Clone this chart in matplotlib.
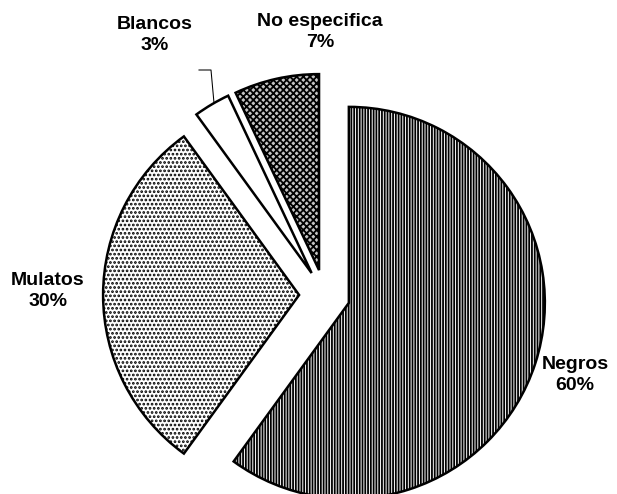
import matplotlib
matplotlib.use("Agg")
import matplotlib.pyplot as plt

# composición por color de piel (%)
labels = ["Negros", "Mulatos", "Blancos", "No especifica"]
values = [60, 30, 3, 7]
pct_text = ["60%", "30%", "3%", "7%"]

faces = ["white", "white", "white", "#c4c4c4"]
hatches = ["||||||", "....", "", "xxxxx"]

plt.rcParams["font.family"] = ["Liberation Sans", "DejaVu Sans"]
plt.rcParams["hatch.linewidth"] = 1.3

W, H = 617, 494
fig = plt.figure(figsize=(W / 100, H / 100), dpi=100)
ax = fig.add_axes([0, 0, 1, 1])

R = 196
wedges, _ = ax.pie(values, startangle=90, counterclock=False,
                   center=(324.6, 199), radius=R, explode=[25.5] * 4,
                   wedgeprops=dict(edgecolor="black", linewidth=1.8))
for w, fc, h in zip(wedges, faces, hatches):
    w.set_facecolor(fc)
    w.set_hatch(h)

# etiquetas (coordenadas en píxeles, origen abajo-izquierda)
pos = {"Negros": (575, 119), "Mulatos": (48, 203),
       "Blancos": (155, 459), "No especifica": (320, 462)}
for lab, p in zip(labels, pct_text):
    x, y = pos[lab]
    ax.text(x, y, f"{lab}\n{p}", ha="center", va="center",
            fontsize=14, fontweight="bold", linespacing=1.35)

# línea guía de Blancos
ax.plot([199, 211, 214], [H - 70, H - 70, H - 103], color="black", lw=0.75)

ax.set_xlim(0, W)
ax.set_ylim(0, H)
ax.axis("off")
fig.savefig("out.png", dpi=100)
